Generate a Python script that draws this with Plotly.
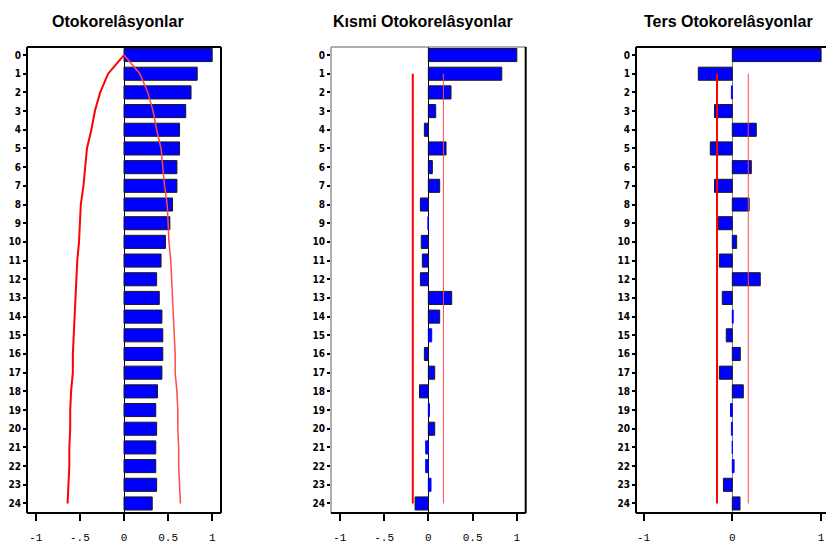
import plotly.graph_objects as go

# Lags 0..24
lags = list(range(25))

# Autocorrelations
acf = [1.00, 0.83, 0.76, 0.70, 0.63, 0.63, 0.60, 0.60, 0.55, 0.52,
       0.47, 0.42, 0.37, 0.40, 0.43, 0.44, 0.44, 0.43, 0.38, 0.36,
       0.37, 0.36, 0.36, 0.37, 0.32]

# Two standard-error band for the autocorrelations
acf_band = [0.00, 0.18, 0.27, 0.33, 0.37, 0.42, 0.44, 0.46, 0.49, 0.50,
            0.51, 0.53, 0.54, 0.55, 0.56, 0.57, 0.58, 0.58, 0.60, 0.61,
            0.61, 0.62, 0.62, 0.63, 0.64]

# Partial autocorrelations
pacf = [1.00, 0.83, 0.256, 0.083, -0.045, 0.20, 0.045, 0.128, -0.09, -0.005,
        -0.08, -0.068, -0.09, 0.264, 0.128, 0.038, -0.045, 0.072, -0.10, 0.012,
        0.072, -0.03, -0.03, 0.03, -0.15]

# Inverse autocorrelations
iacf = [1.00, -0.383, -0.01, -0.20, 0.27, -0.248, 0.214, -0.20, 0.19, -0.158,
        0.049, -0.146, 0.315, -0.113, 0.01, -0.068, 0.09, -0.146, 0.124, -0.02,
        -0.01, 0.0, 0.02, -0.10, 0.087]

# Constant two standard-error limits
pacf_limits = [-0.176, 0.17]
iacf_limits = [-0.172, 0.18]
limit_lags = [1, 24]

titles = ["Otokorelâsyonlar", "Kısmi Otokorelâsyonlar", "Ters Otokorelâsyonlar"]

W, H = 826, 544
MT, MB = 47, 31

BLUE = "#0000ff"
RED = "#ff0000"
LIGHT_RED = "#ff4a4a"


def px(x):
    return x / W


domains = [[px(27), px(221)], [px(331), px(525.7)], [px(636), 1.0]]
xranges = [[-1.1, 1.1], [-1.1, 1.1], [-1.0845, 1.0552]]
title_x = [px(117.5), px(423), px(728.5)]
yrange = [24.51, -0.43]

fig = go.Figure()


def outline_colors(vals):
    # very short bars are drawn without a dark outline
    return ["#1a1a1a" if abs(v) >= 0.04 else BLUE for v in vals]


series = [acf, pacf, iacf]
for i, vals in enumerate(series):
    n = "" if i == 0 else str(i + 1)
    fig.add_trace(go.Bar(
        x=vals, y=lags, orientation="h", width=0.7,
        marker=dict(color=BLUE, line=dict(color=outline_colors(vals), width=1)),
        xaxis="x" + n, yaxis="y" + n, showlegend=False, hoverinfo="x+y",
    ))

# Bands for the autocorrelations
fig.add_trace(go.Scatter(x=[-b for b in acf_band], y=lags, mode="lines",
                         line=dict(color=RED, width=2), xaxis="x", yaxis="y",
                         showlegend=False))
fig.add_trace(go.Scatter(x=acf_band, y=lags, mode="lines",
                         line=dict(color=LIGHT_RED, width=1.5), xaxis="x", yaxis="y",
                         showlegend=False))

# Limits for partial and inverse autocorrelations
for n, lim in (("2", pacf_limits), ("3", iacf_limits)):
    fig.add_trace(go.Scatter(x=[lim[0], lim[0]], y=limit_lags, mode="lines",
                             line=dict(color=RED, width=2),
                             xaxis="x" + n, yaxis="y" + n, showlegend=False))
    fig.add_trace(go.Scatter(x=[lim[1], lim[1]], y=limit_lags, mode="lines",
                             line=dict(color=LIGHT_RED, width=1),
                             xaxis="x" + n, yaxis="y" + n, showlegend=False))

xtick_vals = [[-1, -0.5, 0, 0.5, 1], [-1, -0.5, 0, 0.5, 1], [-1, 0, 1]]
xtick_text = [["-1", "-.5", "0", "0.5", "1"], ["-1", "-.5", "0", "0.5", "1"], ["-1", "0", "1"]]
zero_colors = ["#000000", "#000000", "#808080"]

layout = dict(
    width=W, height=H,
    margin=dict(l=0, r=0, t=MT, b=MB),
    paper_bgcolor="white", plot_bgcolor="white",
    bargap=0.3,
    font=dict(family="Liberation Sans, Arial, sans-serif", color="black"),
)

for i in range(3):
    n = "" if i == 0 else str(i + 1)
    layout["xaxis" + n] = dict(
        domain=domains[i], range=xranges[i], anchor="y" + n,
        tickmode="array", tickvals=xtick_vals[i], ticktext=xtick_text[i],
        ticks="outside", ticklen=7, tickwidth=2, tickcolor="black",
        ticklabelstandoff=7,
        showgrid=False, zeroline=True, zerolinecolor=zero_colors[i], zerolinewidth=1,
        showline=False,
        tickfont=dict(family="Liberation Mono, DejaVu Sans Mono, monospace", size=11, color="black"),
        fixedrange=True,
    )
    layout["yaxis" + n] = dict(
        domain=[0, 1], range=yrange, anchor="x" + n,
        tickmode="array", tickvals=lags, ticktext=["<b>%d</b>" % v for v in lags],
        ticks="outside", ticklen=3, tickwidth=2, tickcolor="black",
        showgrid=False, zeroline=False, showline=False,
        tickfont=dict(family="Liberation Sans Narrow, Arial Narrow, DejaVu Sans Condensed, sans-serif",
                      size=10, color="black"),
        fixedrange=True,
    )

fig.update_layout(**layout)

# Frame lines of each panel
shapes = []


def frame(n, side, color, width):
    xr = "x" + n + " domain"
    yr = "y" + n + " domain"
    coords = {
        "left": (0, 0, 0, 1),
        "right": (1, 0, 1, 1),
        "top": (0, 1, 1, 1),
        "bottom": (0, 0, 1, 0),
    }[side]
    shapes.append(dict(type="line", xref=xr, yref=yr,
                       x0=coords[0], y0=coords[1], x1=coords[2], y1=coords[3],
                       line=dict(color=color, width=width)))


for side in ("left", "right", "top", "bottom"):
    frame("", side, "black", 2)
frame("2", "left", "#606060", 1)
frame("2", "top", "#606060", 1)
frame("2", "right", "black", 2)
frame("2", "bottom", "black", 2)
for side in ("left", "top", "bottom"):
    frame("3", side, "black", 2)

annotations = []
for i in range(3):
    annotations.append(dict(
        text="<b>" + titles[i] + "</b>", x=title_x[i], y=1 + (MT - 22) / (H - MT - MB),
        xref="paper", yref="paper", xanchor="center", yanchor="middle",
        showarrow=False, font=dict(family="Liberation Sans, Arial, sans-serif", size=16, color="black"),
    ))

fig.update_layout(shapes=shapes, annotations=annotations)

fig.write_html("out.html")
